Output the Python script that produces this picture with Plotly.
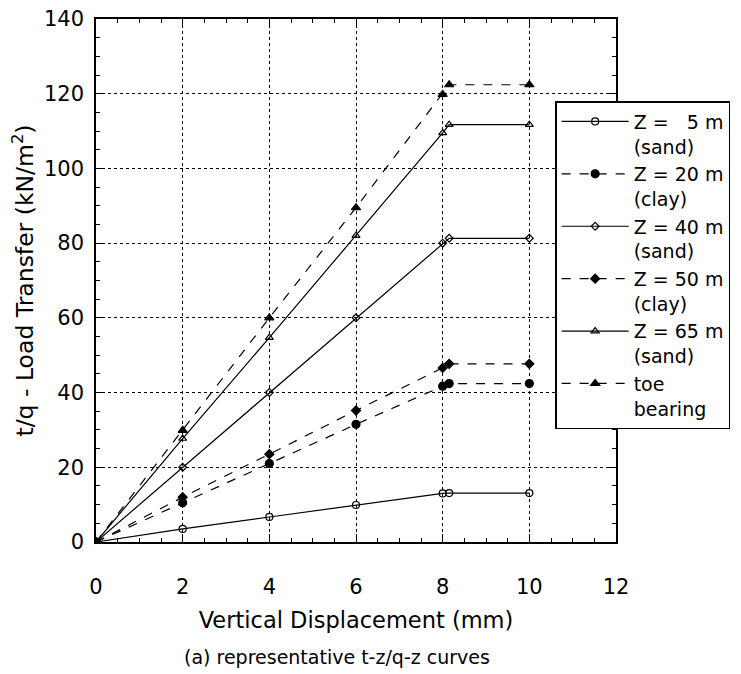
import plotly.graph_objects as go

x_pts = [0, 2, 4, 6, 8, 8.15, 10]

z5_sand = [0, 3.5, 6.7, 9.9, 13.0, 13.1, 13.1]
z20_clay = [0, 10.5, 21.0, 31.5, 41.7, 42.4, 42.4]
z40_sand = [0, 20.0, 40.0, 60.0, 80.0, 81.3, 81.3]
z50_clay = [0, 12.0, 23.5, 35.2, 46.6, 47.7, 47.7]
z65_sand = [0, 27.7, 54.7, 82.0, 109.5, 111.7, 111.7]
toe_bearing = [0, 29.9, 60.0, 89.5, 119.8, 122.4, 122.4]

names = ["Z =\u00a0\u00a0\u00a05 m<br>(sand)", "Z = 20 m<br>(clay)", "Z = 40 m<br>(sand)",
         "Z = 50 m<br>(clay)", "Z = 65 m<br>(sand)", "toe<br>bearing"]
series = [z5_sand, z20_clay, z40_sand, z50_clay, z65_sand, toe_bearing]
dashes = ["solid", "dash", "solid", "dash", "solid", "dash"]
symbols = ["circle-open", "circle", "diamond-open", "diamond", "triangle-up-open", "triangle-up"]
sizes = [7, 8, 6, 7, 7, 8]

fig = go.Figure()
for nm, ys, d, s, sz in zip(names, series, dashes, symbols, sizes):
    fig.add_trace(go.Scatter(
        x=x_pts, y=ys, name=nm, mode="lines+markers",
        line=dict(color="black", width=1.2, dash=d),
        marker=dict(symbol=s, size=sz, color="black", line=dict(color="black", width=1.2)),
    ))

font = "DejaVu Sans, Arial, sans-serif"
fig.update_layout(
    width=733, height=666,
    margin=dict(l=88, r=123, t=11, b=132),
    paper_bgcolor="white", plot_bgcolor="white",
    font=dict(family=font, color="black", size=19),
    showlegend=True,
    legend=dict(
        x=0.883, y=0.843, xanchor="left", yanchor="top",
        bordercolor="black", borderwidth=1.5, bgcolor="white",
        font=dict(size=19, family=font), valign="top",
        itemwidth=67, tracegroupgap=0,
    ),
    annotations=[dict(
        text="(a) representative t-z/q-z curves", xref="paper", yref="paper",
        x=0.463, y=-0.22, xanchor="center", yanchor="middle", showarrow=False,
        font=dict(size=19, family=font),
    )],
)

fig.update_xaxes(
    range=[0, 12], dtick=2, tick0=0, automargin=False, ticklabeloverflow="allow",
    showline=True, linecolor="black", linewidth=1.5, mirror="ticks",
    ticks="inside", ticklen=8, tickwidth=1, tickcolor="black",
    minor=dict(dtick=0.5, ticks="inside", ticklen=4, tickcolor="black", showgrid=False),
    showgrid=True, gridcolor="black", gridwidth=1, griddash="dot",
    zeroline=False, ticklabelstandoff=25,
    title=dict(text="Vertical Displacement (mm)", font=dict(size=22.5, family=font), standoff=14),
    tickfont=dict(size=21),
)
fig.update_yaxes(
    range=[0, 140], dtick=20, tick0=0, automargin=False, ticklabeloverflow="allow",
    showline=True, linecolor="black", linewidth=1.5, mirror="ticks",
    ticks="inside", ticklen=8, tickwidth=1, tickcolor="black",
    minor=dict(dtick=5, ticks="inside", ticklen=4, tickcolor="black", showgrid=False),
    showgrid=True, gridcolor="black", gridwidth=1, griddash="dot",
    zeroline=False, ticklabelstandoff=6,
    title=dict(text="t/q - Load Transfer (kN/m<sup>2</sup>)", font=dict(size=23.5, family=font), standoff=6),
    tickfont=dict(size=21),
)

fig.write_html("out.html")
